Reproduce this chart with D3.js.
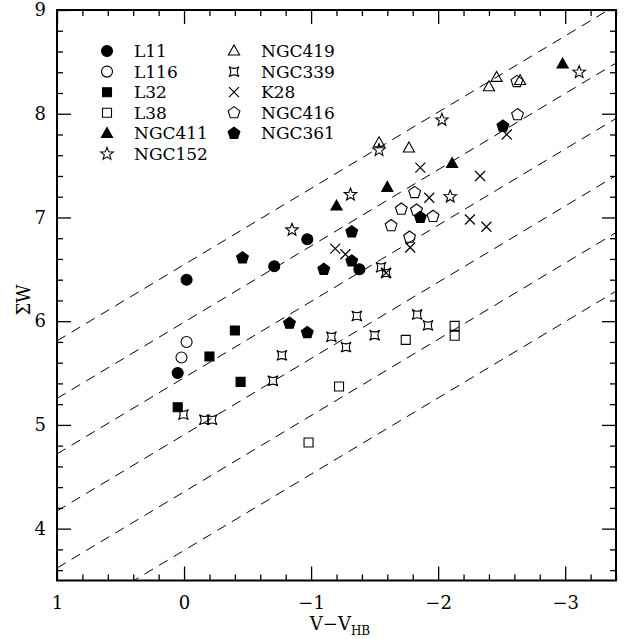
<!DOCTYPE html>
<html>
<head>
<meta charset="utf-8">
<script src="https://cdn.jsdelivr.net/npm/d3@7"></script>
<style>
  body { margin: 0; background: #fff; }
  text { font-family: "DejaVu Serif", serif; fill: #000; }
</style>
</head>
<body>
<script>
// cluster data: [V - V_HB, sum W]
const L11 = [[-0.02, 6.40], [0.05, 5.50], [-0.71, 6.53], [-0.97, 6.79], [-1.38, 6.50]];
const L116 = [[-0.02, 5.80], [0.02, 5.65]];
const L32 = [[-0.40, 5.91], [-0.20, 5.66], [-0.445, 5.415], [0.05, 5.17]];
const L38 = [[-1.22, 5.37], [-0.98, 4.83], [-1.745, 5.82], [-2.13, 5.955], [-2.13, 5.86]];
const NGC411 = [[-1.20, 7.11], [-1.60, 7.29], [-2.11, 7.52], [-2.98, 8.48]];
const NGC152 = [[-0.85, 6.88], [-1.31, 7.22], [-1.535, 7.65], [-2.095, 7.20], [-2.03, 7.94], [-3.11, 8.40]];
const NGC419 = [[-1.535, 7.72], [-1.77, 7.67], [-2.40, 8.26], [-2.46, 8.35], [-2.645, 8.32]];
const NGC339 = [[0.005, 5.10], [-0.16, 5.05], [-0.22, 5.05], [-0.70, 5.425], [-0.77, 5.67],
  [-1.16, 5.85], [-1.36, 6.05], [-1.275, 5.75], [-1.50, 5.865], [-1.835, 6.065], [-1.92, 5.96],
  [-1.55, 6.52], [-1.59, 6.465]];
const K28 = [[-1.19, 6.70], [-1.27, 6.645], [-1.86, 7.48], [-1.93, 7.19], [-2.33, 7.40],
  [-2.25, 6.98], [-2.38, 6.91], [-1.78, 6.71], [-1.59, 6.465], [-2.54, 7.80]];
const NGC416 = [[-1.815, 7.24], [-1.71, 7.08], [-1.83, 7.07], [-1.96, 7.01], [-1.63, 6.92],
  [-1.775, 6.81], [-2.625, 7.99], [-2.62, 8.31]];
const NGC361 = [[-0.46, 6.61], [-1.10, 6.50], [-1.32, 6.86], [-1.32, 6.58], [-1.86, 7.00],
  [-2.51, 7.88], [-0.83, 5.98], [-0.97, 5.89]];

// dashed iso-lines: sumW = c - slope * (V - V_HB)
const isoIntercepts = [6.545, 5.99, 5.455, 4.905, 4.355, 3.79];
const isoSlope = 0.735;

const xMajor = [1, 0, -1, -2, -3];
const yMajor = [4, 5, 6, 7, 8, 9];

const series = [
  { name: 'L11', data: L11, shape: 'circle', fill: true },
  { name: 'L116', data: L116, shape: 'circle', fill: false },
  { name: 'L32', data: L32, shape: 'square', fill: true },
  { name: 'L38', data: L38, shape: 'square', fill: false },
  { name: 'NGC411', data: NGC411, shape: 'triangle', fill: true },
  { name: 'NGC152', data: NGC152, shape: 'star', fill: false },
  { name: 'NGC419', data: NGC419, shape: 'triangle', fill: false },
  { name: 'NGC339', data: NGC339, shape: 'concave', fill: false },
  { name: 'K28', data: K28, shape: 'times', fill: false },
  { name: 'NGC416', data: NGC416, shape: 'pentagon', fill: false },
  { name: 'NGC361', data: NGC361, shape: 'pentagon', fill: true }
];

const W = 627, H = 639;
const pLeft = 57, pRight = 616, pTop = 10, pBottom = 580.5;

const x = d3.scaleLinear().domain([1, -3.4]).range([pLeft, pRight]);
const y = d3.scaleLinear().domain([3.5, 9]).range([pBottom, pTop]);

const svg = d3.select('body').append('svg')
  .attr('width', W)
  .attr('height', H);

// clip for the dashed lines
svg.append('clipPath').attr('id', 'plot')
  .append('rect')
  .attr('x', pLeft).attr('y', pTop)
  .attr('width', pRight - pLeft).attr('height', pBottom - pTop);

const line = d3.line().x(d => x(d[0])).y(d => y(d[1]));
svg.append('g').attr('clip-path', 'url(#plot)')
  .selectAll('path')
  .data(isoIntercepts)
  .enter().append('path')
  .attr('d', c => line([[1, c - isoSlope], [-3.4, c + isoSlope * 3.4]]))
  .attr('fill', 'none')
  .attr('stroke', '#000')
  .attr('stroke-width', 1)
  .attr('stroke-dasharray', '10,7');

// axes with inward ticks
const fmt = d => d < 0 ? '\u2212' + (-d) : String(d);
const xMinor = d3.range(1, -3.41, -0.2).map(v => +v.toFixed(1)).filter(v => !xMajor.includes(v));
const yMinor = d3.range(3.6, 9.01, 0.2).map(v => +v.toFixed(1)).filter(v => !yMajor.includes(v));

function addAxis(axis, tx, ty) {
  const g = svg.append('g').attr('transform', `translate(${tx},${ty})`).call(axis);
  g.select('.domain').remove();
  g.selectAll('.tick line').attr('stroke', '#000').attr('stroke-width', 1.3);
  return g;
}

const xb = addAxis(d3.axisBottom(x).tickValues(xMajor).tickSize(-14).tickPadding(16).tickFormat(fmt), 0, pBottom);
xb.selectAll('text').attr('font-size', 18).attr('font-family', 'DejaVu Serif');
addAxis(d3.axisBottom(x).tickValues(xMinor).tickSize(-6).tickFormat(''), 0, pBottom);
addAxis(d3.axisTop(x).tickValues(xMajor).tickSize(-14).tickFormat(''), 0, pTop);
addAxis(d3.axisTop(x).tickValues(xMinor).tickSize(-6).tickFormat(''), 0, pTop);

const yl = addAxis(d3.axisLeft(y).tickValues(yMajor).tickSize(-14).tickPadding(11).tickFormat(fmt), pLeft, 0);
yl.selectAll('text').attr('font-size', 18).attr('font-family', 'DejaVu Serif');
addAxis(d3.axisLeft(y).tickValues(yMinor).tickSize(-6).tickFormat(''), pLeft, 0);
addAxis(d3.axisRight(y).tickValues(yMajor).tickSize(-14).tickFormat(''), pRight, 0);
addAxis(d3.axisRight(y).tickValues(yMinor).tickSize(-6).tickFormat(''), pRight, 0);

// frame
svg.append('rect')
  .attr('x', pLeft).attr('y', pTop)
  .attr('width', pRight - pLeft).attr('height', pBottom - pTop)
  .attr('fill', 'none')
  .attr('stroke', '#000')
  .attr('stroke-width', 2);

// marker shapes
function shapePath(shape) {
  if (shape === 'circle') return d3.arc()({ innerRadius: 0, outerRadius: 5.5, startAngle: 0, endAngle: 2 * Math.PI });
  if (shape === 'square') return 'M-4.5,-4.5H4.5V4.5H-4.5Z';
  if (shape === 'triangle') return 'M0,-6L5.6,4L-5.6,4Z';
  if (shape === 'times') return 'M-5,-5L5,5M-5,5L5,-5';
  if (shape === 'concave') return 'M-5,-5Q0,-1.5 5,-5Q1.5,0 5,5Q0,1.5 -5,5Q-1.5,0 -5,-5Z';
  if (shape === 'pentagon' || shape === 'star') {
    const n = shape === 'star' ? 10 : 5;
    const pts = d3.range(n).map(i => {
      const a = -Math.PI / 2 + i * 2 * Math.PI / n;
      const r = shape === 'star' ? (i % 2 ? 2.8 : 6.6) : 6.2;
      return [r * Math.cos(a), r * Math.sin(a)];
    });
    return 'M' + pts.map(p => p.map(v => v.toFixed(2)).join(',')).join('L') + 'Z';
  }
}

function drawMarker(sel, s) {
  sel.append('path')
    .attr('d', shapePath(s.shape))
    .attr('fill', s.fill ? '#000' : 'none')
    .attr('stroke', '#000')
    .attr('stroke-width', s.shape === 'times' ? 1.2 : 1.1)
    .attr('stroke-linejoin', 'miter');
}

series.forEach(s => {
  svg.append('g').selectAll('g')
    .data(s.data)
    .enter().append('g')
    .attr('transform', d => `translate(${x(d[0])},${y(d[1])})`)
    .each(function () { drawMarker(d3.select(this), s); });
});

// legend
const legend = svg.append('g');
series.forEach((s, i) => {
  const col = i < 6 ? 0 : 1;
  const row = i < 6 ? i : i - 6;
  const lx = col === 0 ? 107 : 234;
  const ly = 51 + row * 20.6;
  const g = legend.append('g').attr('transform', `translate(${lx},${ly})`);
  drawMarker(g, s);
  legend.append('text')
    .attr('x', lx + 27).attr('y', ly + 6)
    .attr('font-size', 17)
    .text(s.name);
});

// axis titles
const xt = svg.append('text')
  .attr('x', 340).attr('y', 630)
  .attr('text-anchor', 'middle')
  .attr('font-size', 18);
xt.append('tspan').text('V\u2212V');
xt.append('tspan').attr('font-size', 12).attr('dy', 5).text('HB');

svg.append('text')
  .attr('transform', 'translate(30,300) rotate(-90)')
  .attr('text-anchor', 'middle')
  .attr('font-size', 18)
  .text('\u03a3W');
</script>
</body>
</html>
